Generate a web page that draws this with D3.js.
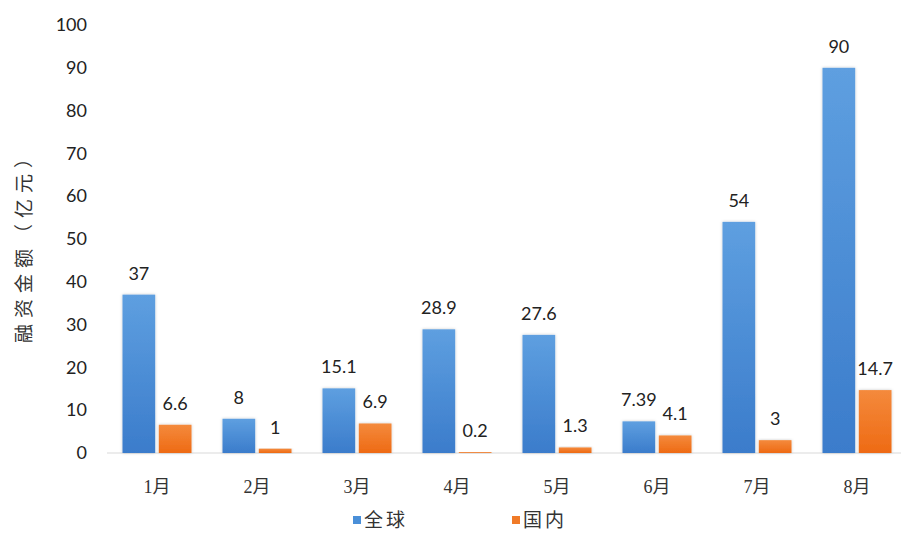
<!DOCTYPE html>
<html>
<head>
<meta charset="utf-8">
<script src="https://cdn.jsdelivr.net/npm/d3@7"></script>
<style>
  html, body { margin: 0; padding: 0; background: #fff; }
  svg { display: block; }
</style>
</head>
<body>
<svg id="chart" width="901" height="534"></svg>
<script>
// Monthly financing amounts (亿元)
const months = ["1月", "2月", "3月", "4月", "5月", "6月", "7月", "8月"];
const globalValues = [37, 8, 15.1, 28.9, 27.6, 7.39, 54, 90];
const domesticValues = [6.6, 1, 6.9, 0.2, 1.3, 4.1, 3, 14.7];
const seriesNames = ["全球", "国内"];
const yTicks = [0, 10, 20, 30, 40, 50, 60, 70, 80, 90, 100];

const svg = d3.select("#chart");
const defs = svg.append("defs");

function gradient(id, top, bottom) {
  const g = defs.append("linearGradient").attr("id", id)
    .attr("x1", 0).attr("y1", 0).attr("x2", 0).attr("y2", 1);
  g.append("stop").attr("offset", "0%").attr("stop-color", top);
  g.append("stop").attr("offset", "100%").attr("stop-color", bottom);
}
gradient("gBlue", "#5e9fe0", "#3b7ccb");
gradient("gOrange", "#f48a3c", "#ee6a14");

const shadow = defs.append("filter").attr("id", "soft")
  .attr("x", "-30%").attr("y", "-10%").attr("width", "160%").attr("height", "130%");
shadow.append("feDropShadow").attr("dx", 0).attr("dy", 0)
  .attr("stdDeviation", 1.6).attr("flood-color", "#000").attr("flood-opacity", 0.22);

const y = d3.scaleLinear().domain([0, 100]).range([453, 25]);
const x0 = d3.scaleBand().domain(months).range([107, 907]).paddingInner(0.31).paddingOuter(0.155);
const x1 = d3.scaleBand().domain(seriesNames).range([0, x0.bandwidth()]).paddingInner(0.1);

// y axis: labels only
const yAxis = d3.axisLeft(y).tickValues(yTicks).tickSize(0).tickPadding(0);
const yg = svg.append("g").attr("transform", "translate(87,0)").call(yAxis);
yg.select(".domain").remove();
yg.selectAll("text")
  .attr("font-family", "Lato, 'Open Sans', sans-serif")
  .attr("font-size", 18).attr("fill", "#222");

// baseline
svg.append("line")
  .attr("x1", 107).attr("x2", 901).attr("y1", y(0)).attr("y2", y(0))
  .attr("stroke", "#d9d9d9").attr("stroke-width", 1.2);

// x axis labels
const xAxis = d3.axisBottom(x0).tickSize(0).tickPadding(0);
const xg = svg.append("g").attr("transform", "translate(0,480)").call(xAxis);
xg.select(".domain").remove();
xg.selectAll("text")
  .attr("font-family", "'Liberation Serif', 'Noto Sans CJK SC', serif")
  .attr("font-size", 18).attr("fill", "#333");

// y axis title
svg.append("text")
  .attr("transform", "translate(31,243) rotate(-90)")
  .attr("text-anchor", "middle")
  .attr("font-family", "'Noto Sans CJK SC', sans-serif")
  .attr("font-size", 19).attr("fill", "#333")
  .attr("letter-spacing", 6)
  .text("融资金额（亿元）");

const rows = months.map((m, i) => ({ m, vals: [globalValues[i], domesticValues[i]] }));
const fills = ["url(#gBlue)", "url(#gOrange)"];

const groups = svg.append("g").selectAll("g").data(rows).join("g")
  .attr("transform", d => `translate(${x0(d.m)},0)`);

groups.selectAll("rect")
  .data(d => d.vals.map((v, k) => ({ v, k })))
  .join("rect")
  .attr("x", d => x1(seriesNames[d.k]))
  .attr("width", x1.bandwidth())
  .attr("y", d => y(d.v))
  .attr("height", d => y(0) - y(d.v))
  .attr("fill", d => fills[d.k])
  .attr("filter", "url(#soft)");

groups.selectAll("text")
  .data(d => d.vals.map((v, k) => ({ v, k })))
  .join("text")
  .attr("x", d => x1(seriesNames[d.k]) + x1.bandwidth() / 2)
  .attr("y", d => y(d.v) - 15)
  .attr("text-anchor", "middle")
  .attr("font-family", "Lato, 'Open Sans', sans-serif")
  .attr("font-size", 18).attr("fill", "#222")
  .text(d => d.v);

// legend
const legendItems = [
  { name: seriesNames[0], color: "#4a8fd8", x: 353 },
  { name: seriesNames[1], color: "#f07a28", x: 512 }
];
const lg = svg.append("g").selectAll("g").data(legendItems).join("g")
  .attr("transform", d => `translate(${d.x},0)`);
lg.append("rect").attr("x", 0).attr("y", 516).attr("width", 8).attr("height", 8)
  .attr("fill", d => d.color);
lg.append("text").attr("x", 11).attr("y", 527)
  .attr("font-family", "'Noto Sans CJK SC', serif")
  .attr("font-size", 19).attr("fill", "#333").attr("letter-spacing", 3)
  .text(d => d.name);
</script>
</body>
</html>
